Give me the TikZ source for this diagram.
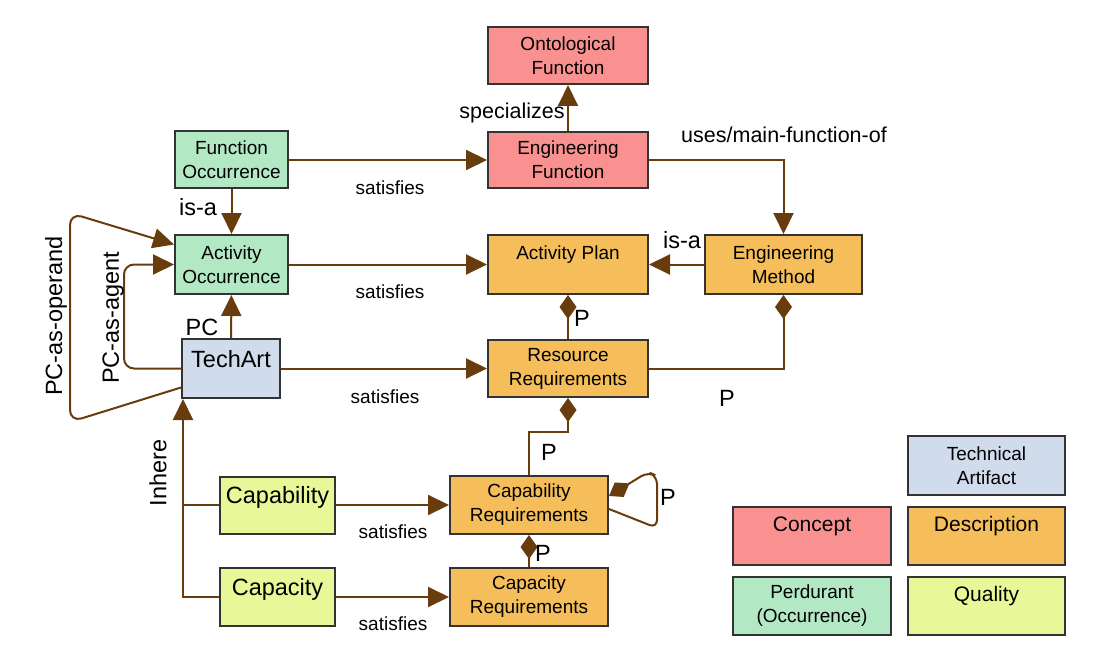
\documentclass[tikz,border=0pt]{standalone}
\usepackage{fontspec}
\setmainfont{Liberation Sans}
\usetikzlibrary{arrows.meta}

\definecolor{brn}{RGB}{104,60,12}
\definecolor{cpink}{RGB}{250,145,145}
\definecolor{corange}{RGB}{245,190,90}
\definecolor{cgreen}{RGB}{178,232,196}
\definecolor{cblue}{RGB}{208,220,236}
\definecolor{cyellow}{RGB}{232,248,152}

\tikzset{
  box/.style={draw=black!80, line width=2pt, inner sep=0pt, align=center,
    font=\fontsize{19}{24}\selectfont},
  bigbox/.style={box, font=\fontsize{23.5}{20}\selectfont},
  pline/.style={draw=brn, line width=2pt},
  arr/.style={pline, -{Triangle[length=21pt,width=20pt]}},
  comp/.style={pline, -{Diamond[length=24pt,width=17pt]}},
  lbl/.style={inner sep=0pt, font=\fontsize{19}{24}\selectfont},
  mlbl/.style={inner sep=0pt, font=\fontsize{21.5}{26}\selectfont},
  blbl/.style={inner sep=0pt, font=\fontsize{23.5}{28}\selectfont}
}

\begin{document}
\begin{tikzpicture}[x=1pt,y=-1pt]

\useasboundingbox (0,0) rectangle (1110,663);

% function layer
\node[box, fill=cpink, minimum width=160, minimum height=57] (of) at (568,55.5) {Ontological\\Function};
\node[box, fill=cpink, minimum width=160, minimum height=56] (ef) at (568,160) {Engineering\\Function};
\node[box, fill=cgreen, minimum width=113, minimum height=57] (fo) at (231.5,160) {Function\\Occurrence};

% activity layer
\node[box, fill=cgreen, minimum width=113, minimum height=59] (ao) at (231.5,264.5) {Activity\\Occurrence};
\node[box, fill=corange, minimum width=160, minimum height=59] (ap) at (568,264.5) {Activity Plan\\\mbox{}};
\node[box, fill=corange, minimum width=157, minimum height=59] (em) at (783.5,264.5) {Engineering\\Method};

% artifact and requirements
\node[bigbox, fill=cblue, minimum width=98, minimum height=59] (ta) at (231,368.5) {TechArt\\\mbox{}};
\node[box, fill=corange, minimum width=160, minimum height=57] (rr) at (568,368.5) {Resource\\Requirements};
\node[bigbox, fill=cyellow, minimum width=115, minimum height=57] (cb) at (277.5,505) {Capability\\\mbox{}};
\node[box, fill=corange, minimum width=158, minimum height=58] (cbr) at (529,505) {Capability\\Requirements};
\node[bigbox, fill=cyellow, minimum width=115, minimum height=58] (cp) at (277.5,597) {Capacity\\\mbox{}};
\node[box, fill=corange, minimum width=158, minimum height=58] (cpr) at (529,597) {Capacity\\Requirements};

% legend
\node[box, fill=cblue, minimum width=157, minimum height=59] (lta) at (986.5,465.5) {Technical\\Artifact};
\node[box, fill=cpink, minimum width=158, minimum height=58, font=\fontsize{21}{24}\selectfont] (lco) at (812,536) {Concept\\\mbox{}};
\node[box, fill=corange, minimum width=157, minimum height=58, font=\fontsize{21}{24}\selectfont] (lde) at (986.5,536) {Description\\\mbox{}};
\node[box, fill=cgreen, minimum width=158, minimum height=58] (lpe) at (812,606) {Perdurant\\(Occurrence)};
\node[box, fill=cyellow, minimum width=157, minimum height=58, font=\fontsize{21}{24}\selectfont] (lqu) at (986.5,606) {Quality\\\mbox{}};

% connectors
\draw[arr] (ef) -- (of);
\draw[arr] (fo) -- (ef);
\draw[arr] (ef.east) -| (em.north);
\draw[arr] (fo) -- (ao);
\draw[arr] (ao) -- (ap);
\draw[arr] (em) -- (ap);
\draw[arr] (ta) -- (ao);
\draw[arr, rounded corners=10pt] (ta.west) -- ++(-57,0) |- (ao.west);
\draw[arr, rounded corners=12pt] ([yshift=-19pt]ta.west) -- (70,422) -- (70,213) -- ([yshift=20pt]ao.west);
\draw[arr] (ta) -- (rr);
\draw[comp] (rr) -- (ap);
\draw[comp] (rr.east) -| (em.south);
\draw[comp] (cbr.north) -- ++(0,-43) -| (rr.south);
\draw[comp] (cpr) -- (cbr);
\draw[comp, rounded corners=8pt] ([yshift=-4pt]cbr.east) -- (657,528) -- (657,476) -- (648,472) -- ([yshift=9pt]cbr.east);
\draw[arr] (cb) -- (cbr);
\draw[arr] (cp) -- (cpr);

\coordinate (inh) at ([xshift=2pt]ta.south west);
\draw[arr] (cp.west) -| (inh);
\draw[pline] (cb.west) -- (cb.west -| inh);

% labels
\node[mlbl] (l-spec) at (512,113) {specializes};
\node[mlbl] (l-uses) at (784,135) {uses/main-function-of};
\node[lbl] (l-sat1) at (390,188) {satisfies};
\node[blbl] (l-isa1) at (198,207) {is-a};
\node[lbl] (l-sat2) at (390,292) {satisfies};
\node[blbl] (l-isa2) at (682,240) {is-a};
\node[blbl] (l-pc) at (202,327) {PC};
\node[blbl, rotate=90] (l-agent) at (113,318) {PC-as-agent};
\node[blbl, rotate=90] (l-operand) at (56,316) {PC-as-operand};
\node[lbl] (l-sat3) at (385,397) {satisfies};
\node[blbl] (l-p1) at (582,318) {P};
\node[blbl] (l-p2) at (727,398) {P};
\node[blbl] (l-p3) at (549,452) {P};
\node[blbl] (l-p4) at (668,497) {P};
\node[blbl] (l-p5) at (543,553) {P};
\node[lbl] (l-sat4) at (393,532) {satisfies};
\node[lbl] (l-sat5) at (393,624) {satisfies};
\node[blbl, rotate=90] (l-inhere) at (158,473) {Inhere};

\end{tikzpicture}
\end{document}
